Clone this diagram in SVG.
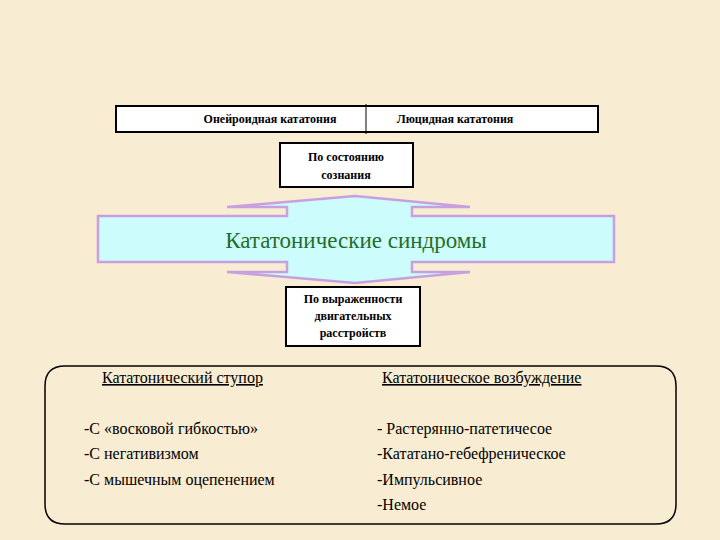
<svg xmlns="http://www.w3.org/2000/svg" width="720" height="540" viewBox="0 0 720 540">
<style>
.box{fill:#fff;stroke:#000;stroke-width:2}
.b{font-family:'Liberation Serif','Times New Roman','DejaVu Serif',serif;font-weight:bold;font-size:12px;fill:#000;text-anchor:middle}
.t{font-family:'Liberation Serif','Times New Roman','DejaVu Serif',serif;font-size:16px;fill:#000}
.h{font-family:'Liberation Serif','Times New Roman','DejaVu Serif',serif;font-size:23px;fill:#1f6e2a;text-anchor:middle}
</style>
<rect width="720" height="540" fill="#f8edd2"/>
<g id="top">
<rect class="box" x="116" y="106" width="482" height="26"/>
<line x1="366" y1="104" x2="366" y2="134" stroke="#000" stroke-width="1"/>
<text class="b" x="270" y="123">Онейроидная кататония</text>
<text class="b" x="455" y="123">Люцидная кататония</text>
</g>
<g id="consc">
<rect class="box" x="280" y="143" width="133" height="44"/>
<text class="b" x="346" y="161">По состоянию</text>
<text class="b" x="346" y="179">сознания</text>
</g>
<g id="main">
<path d="M98,216 H287 V207 H227 L355,196 L470,207 H412 V216 H614 V262 H412 V272 H470 L355,283 L227,272 H287 V262 H98 Z" fill="#ccfcfc" stroke="#c8a0e0" stroke-width="2.5"/>
<text class="h" x="356" y="248">Кататонические синдромы</text>
</g>
<g id="motor">
<rect class="box" x="286" y="287" width="134" height="59"/>
<text class="b" x="353" y="303">По выраженности</text>
<text class="b" x="353" y="320">двигательных</text>
<text class="b" x="353" y="337">расстройств</text>
</g>
<g id="types">
<path d="M65,366 H656 Q676,366 676,386 V504 Q676,524 656,524 H65 Q45,524 45,504 V386 Q45,366 65,366 Z" fill="none" stroke="#000" stroke-width="1.5"/>
<text class="t" x="102" y="383" text-decoration="underline">Кататонический ступор</text>
<text class="t" x="382" y="383" text-decoration="underline">Кататоническое возбуждение</text>
<text class="t" x="84" y="434">-С «восковой гибкостью»</text>
<text class="t" x="84" y="459">-С негативизмом</text>
<text class="t" x="84" y="485">-С мышечным оцепенением</text>
<text class="t" x="377" y="434">- Растерянно-патетичесое</text>
<text class="t" x="377" y="459">-Кататано-гебефреническое</text>
<text class="t" x="377" y="485">-Импульсивное</text>
<text class="t" x="377" y="510">-Немое</text>
</g>
<g id="connectors"></g>
</svg>
